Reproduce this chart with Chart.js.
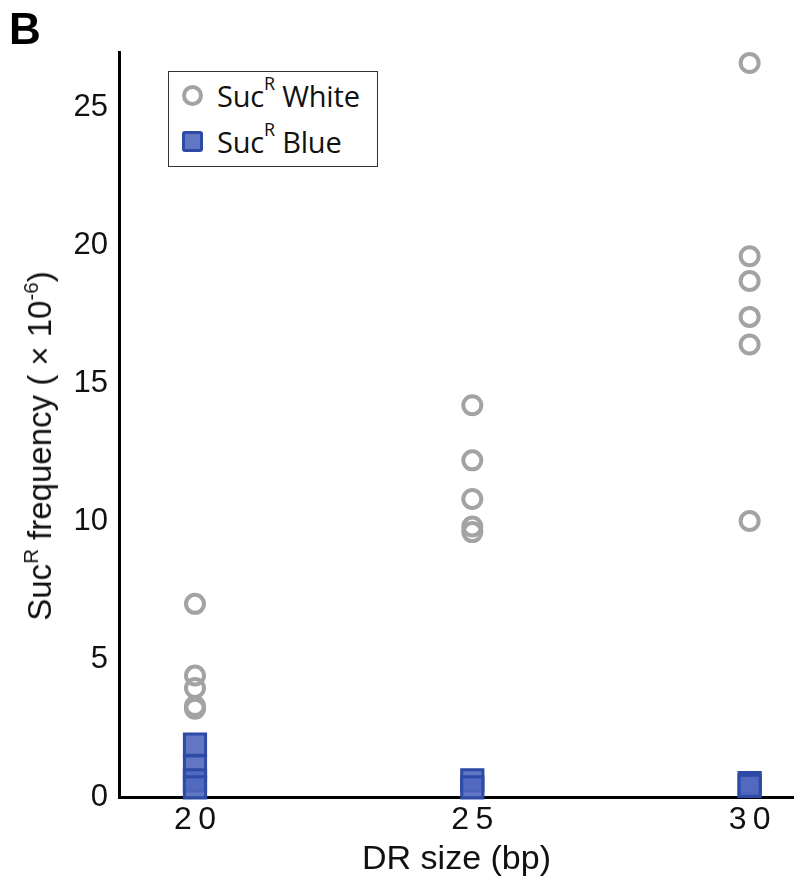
<!DOCTYPE html>
<html>
<head>
<meta charset="utf-8">
<script src="https://cdn.jsdelivr.net/npm/chart.js@4.4.1/dist/chart.umd.min.js"></script>
<style>
    body { margin: 0; background: #fff; }
    #wrap { position: relative; width: 794px; height: 880px; }
    #panel { position: absolute; left: 9px; top: 4px; font: bold 44px "Liberation Sans", Arial, sans-serif; }
    #ytitle {
        position: absolute; left: 40px; top: 446px;
        transform: translate(-50%, -50%) rotate(-90deg);
        white-space: nowrap; font: 33px "Liberation Sans", Arial, sans-serif; color: #111;
    }
    sup { font-size: 62%; vertical-align: 0; position: relative; top: -0.65em; }
    #legend {
        position: absolute; left: 168px; top: 71px; width: 208px; height: 94px;
        border: 1.5px solid #333; background: #fff;
        font: 29px "Open Sans", "Noto Sans", sans-serif; color: #111; letter-spacing: -0.2px;
    }
    .row { position: absolute; left: 13px; height: 30px; display: flex; align-items: center; }
    .mk { width: 21px; height: 21px; margin-right: 14px; box-sizing: border-box; }
    .circ { border: 4px solid #a3a3a3; border-radius: 50%; }
    .sq { border: 3px solid #2c4aa6; background: rgba(80,104,190,0.9); border-radius: 3px; }
</style>
</head>
<body>
<div id="wrap">
    <canvas id="chart" width="794" height="880"></canvas>
    <div id="panel">B</div>
    <div id="ytitle">Suc<sup>R</sup> frequency ( × 10<sup>-6</sup>)</div>
    <div id="legend">
        <div class="row" style="top:8px"><div class="mk circ"></div>Suc<sup>R</sup>&nbsp;White</div>
        <div class="row" style="top:54px"><div class="mk sq"></div>Suc<sup>R</sup>&nbsp;Blue</div>
    </div>
</div>
<script>
// DR sizes (bp) on the x axis
const drSizes = [20, 25, 30];
// SucR White frequency (x10^-6), one array per DR size
const white20 = [7.0, 4.4, 3.95, 3.3, 3.2];
const white25 = [14.2, 12.2, 10.8, 9.8, 9.6];
const white30 = [26.6, 19.6, 18.7, 17.4, 16.4, 10.0];
// SucR Blue frequency (x10^-6)
const blue20 = [1.9, 1.1, 0.6, 0.35];
const blue25 = [0.6, 0.35];
const blue30 = [0.5, 0.4];
const yTicks = [0, 5, 10, 15, 20, 25];

function toPoints(x, ys) {
    return ys.map(y => ({ x: x, y: y }));
}
const whitePoints = [white20, white25, white30].flatMap((ys, i) => toPoints(drSizes[i], ys));
const bluePoints = [blue20, blue25, blue30].flatMap((ys, i) => toPoints(drSizes[i], ys));

const fontFamily = '"Liberation Sans", Arial, sans-serif';

const ctx = document.getElementById('chart').getContext('2d');
const myChart = new Chart(ctx, {
    type: 'scatter',
    data: {
        datasets: [
            {
                label: 'SucR Blue',
                data: bluePoints,
                pointStyle: 'rect',
                pointRadius: 15,
                pointHoverRadius: 15,
                borderWidth: 3,
                borderColor: '#2c4aa6',
                backgroundColor: 'rgba(80,104,190,0.9)',
                clip: false
            },
            {
                label: 'SucR White',
                data: whitePoints,
                pointStyle: 'circle',
                pointRadius: 9,
                pointHoverRadius: 9,
                borderWidth: 4,
                borderColor: '#a3a3a3',
                backgroundColor: 'rgba(0,0,0,0)',
                clip: false
            }
        ]
    },
    options: {
        responsive: false,
        animation: false,
        layout: { autoPadding: false, padding: { top: 52, left: 0, right: 0, bottom: 0 } },
        plugins: {
            legend: { display: false },
            tooltip: { enabled: false }
        },
        scales: {
            x: {
                type: 'linear',
                min: 18.63,
                max: 30.8,
                afterBuildTicks: scale => { scale.ticks = drSizes.map(v => ({ value: v })); },
                afterFit: scale => {
                    scale.height = 83;
                    scale.paddingLeft = 0;
                    scale.paddingRight = 0;
                },
                grid: { display: false, drawTicks: false },
                border: { color: '#000', width: 3 },
                ticks: {
                    font: { family: fontFamily, size: 32 },
                    color: '#111',
                    padding: 4,
                    maxRotation: 0,
                    callback: v => String(v).split('').join('\u2009')
                },
                title: {
                    display: true,
                    text: 'DR size (bp)',
                    font: { family: fontFamily, size: 34 },
                    color: '#111',
                    padding: { top: 0, bottom: 0 }
                }
            },
            y: {
                min: 0,
                max: 27,
                afterBuildTicks: scale => { scale.ticks = yTicks.map(v => ({ value: v })); },
                afterFit: scale => { scale.width = 119; },
                grid: { display: false, drawTicks: false },
                border: { color: '#000', width: 3 },
                ticks: {
                    font: { family: fontFamily, size: 31 },
                    color: '#111',
                    padding: 11
                }
            }
        }
    }
});
</script>
</body>
</html>
